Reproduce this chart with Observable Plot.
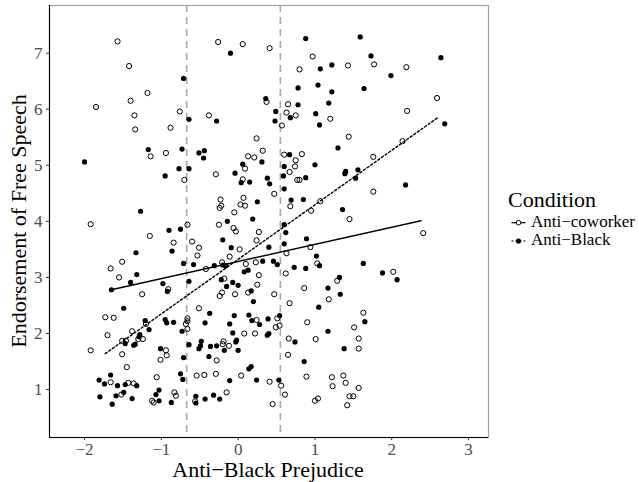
<!DOCTYPE html>
<html><head><meta charset="utf-8">
<script src="https://cdn.jsdelivr.net/npm/d3@7"></script>
<script src="https://cdn.jsdelivr.net/npm/@observablehq/plot@0.6"></script>
<style>body{margin:0;background:#fff}#chart{position:relative;width:639px;height:482px}</style>
</head><body><div id="chart"></div>
<script>
const conditions = ["Anti\u2212coworker", "Anti\u2212Black"];
const legendTitle = "Condition";
const xTitle = "Anti\u2212Black Prejudice";
const yTitle = "Endorsement of Free Speech";
const xTicks = [-2, -1, 0, 1, 2, 3];
const yTicks = [1, 2, 3, 4, 5, 6, 7];
const xDomain = [-2.456, 3.26];
const yDomain = [0.145, 7.85];
const cutoffs = [-0.67, 0.55];

const coworkerX = [-1.57,-1.42,-1.18,-1.40,-1.85,-0.76,-1.35,-0.88,-1.34,-0.26,0.06,0.41,0.97,0.80,1.43,0.37,0.65,0.63,0.75,1.20,0.57,-0.38,0.24,1.44,0.32,1.77,2.19,2.59,2.20,2.14,
-1.14,-0.94,-0.70,-1.92,-0.66,-1.15,-0.84,-0.60,-0.51,-0.53,-1.51,-1.66,-1.55,-0.91,0.13,0.21,0.60,0.83,0.75,0.74,0.67,-0.29,0.09,0.06,0.47,0.77,0.80,-0.23,-0.22,-0.24,
0.07,0.03,0.09,-0.05,0.68,1.07,0.95,1.45,-0.25,-0.06,-0.03,0.27,0.24,0.02,0.63,0.94,-0.11,-0.21,-0.42,0.10,0.23,1.03,0.27,0.62,-0.18,0.25,0.86,1.29,1.76,1.76,
2.41,2.02,-1.25,-0.51,-1.73,-1.62,-1.20,-0.66,-0.66,-0.68,-0.66,-1.38,-1.70,-1.30,-1.24,-1.51,-1.46,-1.92,-1.51,-0.94,-0.93,-1.01,-1.45,-1.06,-0.54,-1.66,-1.43,-1.36,-1.52,-1.12,
-1.10,-0.83,-0.81,-0.56,-0.21,-0.24,-0.04,0.13,0.47,1.18,0.67,0.24,0.51,0.54,0.49,0.90,0.08,0.22,-0.19,-0.20,-0.12,0.66,1.01,0.65,-0.28,-0.44,-0.29,0.04,0.41,0.56,
0.89,1.22,1.23,1.37,1.40,1.45,-0.15,0.61,0.45,1.00,1.04,1.42,1.63,1.51,1.57,1.57,1.57,1.50];
const coworkerY = [7.21,6.77,6.29,6.15,6.04,5.96,5.89,5.67,5.64,7.20,7.16,7.09,6.94,6.71,6.78,6.13,6.09,5.94,5.89,5.83,5.71,5.89,5.48,5.51,5.26,6.80,6.75,6.20,5.97,5.43,
5.16,5.22,4.74,3.95,3.94,3.74,3.62,3.64,3.53,3.39,3.28,3.16,3.00,2.79,5.16,5.14,5.19,5.20,5.09,4.98,4.88,4.84,4.94,4.75,4.49,4.74,4.74,4.39,4.28,4.24,
4.42,4.30,4.28,4.16,4.27,4.36,4.19,4.04,3.94,3.88,3.82,3.81,3.66,3.50,3.43,3.54,3.37,3.27,3.15,3.24,3.27,3.25,3.04,3.07,2.98,2.87,2.81,2.94,5.15,4.53,
3.79,3.10,2.70,2.45,2.29,2.28,2.17,2.27,2.22,2.17,2.08,2.04,1.97,1.90,1.90,1.87,1.87,1.70,1.63,1.70,1.61,1.53,1.40,1.22,1.25,1.13,1.12,1.11,0.91,0.80,
0.77,0.95,0.89,0.79,2.73,2.67,2.70,2.73,2.70,2.61,2.54,2.24,2.27,2.14,2.11,2.20,2.00,2.00,1.86,1.81,1.78,1.91,1.90,1.62,1.52,1.26,1.28,1.25,1.14,1.07,
1.23,1.22,1.06,1.25,1.12,0.88,0.95,0.91,0.74,0.80,0.84,0.72,2.37,2.11,1.91,1.73,1.03,0.88];

const blackX = [-0.71,-0.64,-1.17,-0.73,-0.10,0.88,1.07,1.22,0.78,1.04,1.22,0.36,0.78,1.18,0.49,0.68,1.01,0.48,1.06,-0.28,-0.44,1.30,1.59,1.73,2.64,1.99,1.64,2.69,-2.00,-0.51,
-0.77,-0.64,-0.95,-1.27,-0.90,-0.75,-1.33,-0.86,-0.71,-0.58,-1.32,-1.40,-0.98,-0.64,-1.65,-0.45,0.31,0.67,0.60,0.59,1.00,1.40,1.39,-0.04,0.06,0.04,0.15,0.38,0.41,0.88,
0.60,0.25,0.69,0.85,1.36,-0.14,0.19,0.60,0.62,-0.20,0.89,0.60,-0.09,0.40,1.02,-0.31,-0.20,-0.16,0.32,0.46,0.51,1.06,0.08,0.13,0.73,0.88,-0.22,-0.07,-0.15,0.00,
1.17,1.32,1.56,1.53,2.18,1.63,1.88,2.07,-0.92,-1.49,-1.21,-0.95,-0.93,-0.84,-0.73,-1.16,-1.28,-1.29,-1.34,-1.36,-1.47,-1.01,-0.71,-0.64,-0.51,-0.75,-0.72,-1.66,-1.81,-1.74,
-1.57,-1.47,-1.32,-1.49,-1.59,-1.80,-1.64,-1.38,-1.03,-1.07,-1.03,-0.87,-0.55,-0.55,0.17,0.20,1.33,-0.37,-0.43,-0.05,-0.11,0.14,0.18,0.28,0.39,0.54,1.05,1.17,-0.07,0.38,
0.40,-0.02,-0.03,-0.48,-0.49,-0.36,-0.28,-0.18,0.00,0.74,1.38,-0.38,0.17,0.14,0.86,-0.11,0.24,0.53,-0.43,-0.32,-0.24,1.65];
const blackY = [6.55,5.82,5.28,5.29,7.00,7.26,6.72,6.79,6.38,6.43,6.31,6.19,6.08,6.11,5.96,5.85,5.92,5.79,5.72,5.79,5.26,5.31,7.29,6.95,6.92,6.60,6.37,5.74,5.06,5.22,
4.94,4.94,4.81,4.18,3.84,3.86,3.44,3.47,3.25,3.23,3.05,2.91,2.89,2.93,2.78,5.13,5.06,5.19,4.98,4.81,5.01,4.89,4.85,4.86,5.02,4.69,4.70,4.77,4.67,4.78,
4.58,4.35,4.38,4.39,4.21,4.00,4.04,3.94,3.80,3.67,3.69,3.60,3.53,3.54,3.38,3.21,3.22,3.21,3.29,3.29,3.23,3.21,3.10,3.13,3.18,3.16,2.96,2.91,2.84,2.86,
2.81,3.00,4.92,4.77,4.65,3.25,3.08,2.96,2.75,2.45,2.23,2.25,2.19,2.20,2.04,2.07,1.98,1.94,1.81,1.79,1.82,1.73,1.57,1.80,1.73,1.28,1.18,1.26,1.17,1.10,
1.07,1.09,1.07,0.95,0.89,0.87,0.74,0.84,0.99,0.91,0.80,0.77,0.88,0.76,2.76,2.57,2.70,2.36,2.19,2.32,2.17,2.33,2.23,2.16,2.26,2.32,2.47,2.04,2.01,1.97,
2.00,1.88,1.85,1.86,1.78,1.77,1.78,1.70,1.70,1.85,1.73,1.59,1.41,1.37,1.50,1.16,1.17,1.17,0.83,0.90,0.83,2.21];

const fitCoworkerX = [-1.65, 2.38];
const fitCoworkerY = [2.78, 4.01];
const fitBlackX = [-1.73, 2.61];
const fitBlackY = [1.64, 5.86];

const coworker = coworkerX.map((x, i) => ({x, y: coworkerY[i]}));
const black = blackX.map((x, i) => ({x, y: blackY[i]}));
const fitC = fitCoworkerX.map((x, i) => ({x, y: fitCoworkerY[i]}));
const fitB = fitBlackX.map((x, i) => ({x, y: fitBlackY[i]}));

const fmt = d => (d < 0 ? "\u2212" + Math.abs(d) : String(d));
const font = "'Liberation Serif', 'Times New Roman', serif";
const plot = Plot.plot({
  width: 639, height: 482,
  marginLeft: 49, marginRight: 151, marginTop: 5, marginBottom: 45,
  style: {fontFamily: font, background: "white", overflow: "visible"},
  x: {domain: xDomain, label: null},
  y: {domain: yDomain, label: null},
  marks: [
    Plot.frame({stroke: "#a0a0a0", strokeWidth: 1.2}),
    Plot.ruleX(cutoffs, {stroke: "#a8a8a8", strokeWidth: 1.6, strokeDasharray: "7,5"}),
    Plot.dot(coworker, {x: "x", y: "y", r: 2.6, stroke: "black", strokeWidth: 1, fill: "none"}),
    Plot.dot(black, {x: "x", y: "y", r: 2.6, fill: "black", stroke: "none"}),
    Plot.line(fitC, {x: "x", y: "y", stroke: "black", strokeWidth: 1.4}),
    Plot.line(fitB, {x: "x", y: "y", stroke: "black", strokeWidth: 1.4, strokeDasharray: "2.2,2.2"}),
    Plot.ruleX([xDomain[0]], {stroke: "black", strokeWidth: 1.1}),
    Plot.ruleY([yDomain[0]], {stroke: "black", strokeWidth: 1.1}),
    Plot.axisX({ticks: xTicks, tickFormat: fmt, tickSize: 3, tickPadding: 2, fontSize: 17, fill: "#4d4d4d", stroke: "#333", label: null}),
    Plot.axisY({ticks: yTicks, tickFormat: fmt, tickSize: 3, tickPadding: 4, fontSize: 17, fill: "#4d4d4d", stroke: "#333", label: null})
  ]
});
document.getElementById("chart").appendChild(plot);

const svg = d3.select(plot);
svg.append("text").attr("x", 268).attr("y", 477).attr("text-anchor", "middle")
  .attr("font-family", font).attr("font-size", 22).attr("fill", "black").text(xTitle);
svg.append("text").attr("transform", "translate(26,221) rotate(-90)").attr("text-anchor", "middle")
  .attr("font-family", font).attr("font-size", 22).attr("fill", "black").text(yTitle);

const lg = svg.append("g").attr("font-family", font).attr("text-anchor", "start");
lg.append("text").attr("x", 508).attr("y", 207).attr("text-anchor", "start").attr("font-size", 22).attr("fill", "black").text(legendTitle);
conditions.forEach((c, i) => {
  const cy = 222.7 + i * 18.3;
  lg.append("line").attr("x1", 511.5).attr("x2", 525.5).attr("y1", cy).attr("y2", cy)
    .attr("stroke", "black").attr("stroke-width", 1.2).attr("stroke-dasharray", i === 0 ? null : "2,2");
  lg.append("circle").attr("cx", 518.5).attr("cy", cy).attr("r", i === 0 ? 2.3 : 2.6)
    .attr("fill", i === 0 ? "white" : "black").attr("stroke", i === 0 ? "black" : "none").attr("stroke-width", 1);
  lg.append("text").attr("x", 531).attr("y", cy + 4.3).attr("text-anchor", "start").attr("font-size", 17).attr("fill", "black").text(c);
});
</script></body></html>
